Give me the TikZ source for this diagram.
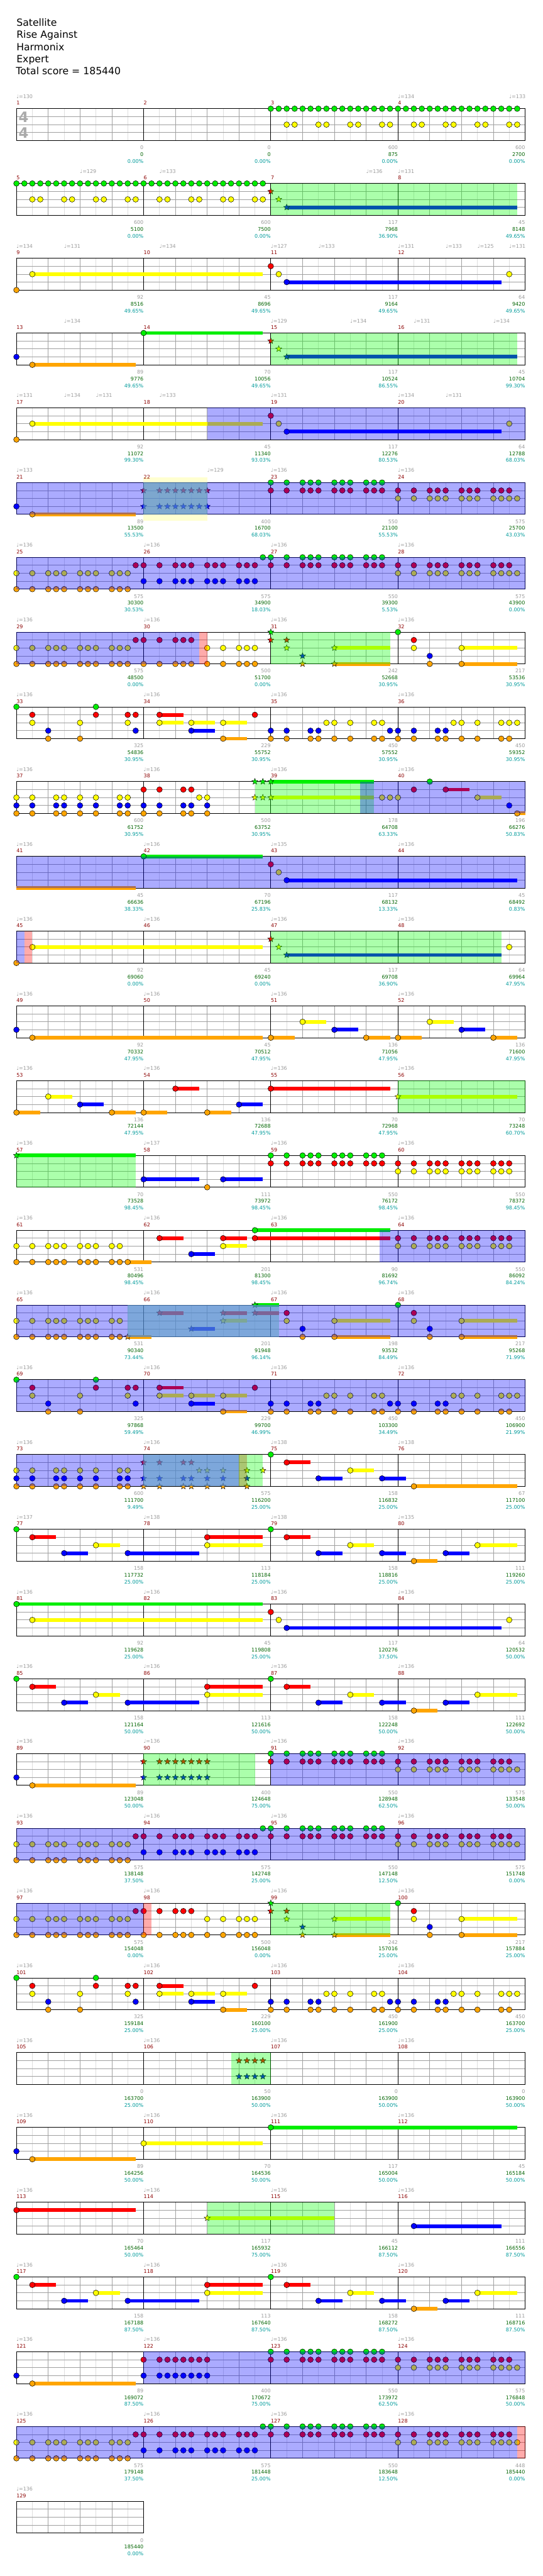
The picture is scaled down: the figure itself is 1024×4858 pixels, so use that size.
\documentclass[tikz,border=0pt]{standalone}
\usepackage{fontspec}
\setmainfont{DejaVu Sans}
\usetikzlibrary{shapes.geometric}

\definecolor{c0}{RGB}{0,238,0}
\definecolor{c1}{RGB}{255,0,0}
\definecolor{c2}{RGB}{255,255,0}
\definecolor{c3}{RGB}{0,0,255}
\definecolor{c4}{RGB}{255,165,0}
\definecolor{spcol}{RGB}{0,255,0}
\definecolor{mnumcol}{RGB}{140,0,0}
\definecolor{ptscol}{RGB}{155,155,155}
\definecolor{totcol}{RGB}{0,100,0}
\definecolor{pctcol}{RGB}{0,155,155}
\definecolor{gridcol}{RGB}{160,160,160}
\definecolor{subcol}{RGB}{222,222,222}
\definecolor{paley}{RGB}{255,255,208}
\definecolor{tealcol}{RGB}{95,165,195}

\newcommand{\smallfont}{\fontsize{9.5}{11}\selectfont}

% measure #1, sixteenth #2 -> \mx, \my (top line of the staff)
\newcommand{\setpos}[2]{%
  \pgfmathtruncatemacro{\rowidx}{(#1-1)/4}%
  \pgfmathsetmacro{\mx}{31+240*mod(#1-1,4)+15*(#2)}%
  \pgfmathsetmacro{\my}{205+141*\rowidx}}

% one bar: grid and number
\newcommand{\grid}[1]{\setpos{#1}{0}%
  \foreach \q in {2,6,10,14} \draw[subln] (\mx+15*\q,\my) -- ++(0,60);
  \foreach \q in {4,8,12} \draw[gridln] (\mx+15*\q,\my) -- ++(0,60);
  \foreach \h in {15,30,45} \draw[gridln] (\mx,\my+\h) -- ++(240,0);
  \draw[barln] (\mx,\my) rectangle ++(240,60);
  \node[mnum] at (\mx,\my-7) {#1};}
% one bar with points / total / percent
\newcommand{\meas}[4]{\grid{#1}%
  \node[pts] at (\mx+240,\my+77) {#2};
  \node[tot] at (\mx+240,\my+89.7) {#3};
  \node[pct] at (\mx+240,\my+102.7) {#4\%};}

% gems: bar, lane, list of sixteenths
\newcommand{\nts}[3]{\edef\plist{#3}%
  \foreach \p in \plist {\setpos{#1}{\p}\path[note=c#2] (\mx,\my+15*#2) circle (5.3);}}
\newcommand{\sts}[3]{\edef\plist{#3}%
  \foreach \p in \plist {\setpos{#1}{\p}\node[spnote=c#2] at (\mx,\my+15*#2) {};}}

% sustain: bar, pos, bar, pos, lane
\newcommand{\sus}[5]{\setpos{#1}{#2}\let\xa\mx\setpos{#3}{#4}%
  \fill[c#5] (\xa,\my+15*#5-3.5) rectangle (\mx,\my+15*#5+3.5);}

% shaded zone: style, bar, pos, bar, pos
\newcommand{\zone}[5]{\setpos{#2}{#3}\let\xa\mx\setpos{#4}{#5}%
  \fill[#1] (\xa,\my) rectangle (\mx,\my+60);}

\newcommand{\tmp}[3]{\setpos{#1}{#2}\node[tempo] at (\mx,\my-19.5) {♩=#3};}

\def\pat{0,2,4,5,6,8,9,10,12,13,14}
\def\pbt{0,2,5,6,8,10,13,14}

% four-bar figures that come back
\newcommand{\dense}[1]{%
  \nts{#1}{2}{\pat}\nts{#1}{4}{\pat}\nts{#1}{1}{15}
  \nts{#1+1}{1}{\pat}\nts{#1+1}{3}{\pat}\nts{#1+1}{0}{15}
  \nts{#1+2}{0}{\pat}\nts{#1+2}{1}{\pat}
  \nts{#1+3}{1}{\pat}\nts{#1+3}{2}{\pat,15}}
\newcommand{\riffend}[1]{%
  \nts{#1}{2}{\pat}\nts{#1}{4}{\pat}\nts{#1}{1}{15}
  \nts{#1+1}{1}{0,2,4,5,6}\nts{#1+1}{4}{0,2,4,5,6,8,10,12,13,14}\nts{#1+1}{2}{8,10,12,13,14}
  \sus{#1+2}{8}{#1+2}{15}{2}\sus{#1+2}{8}{#1+2}{15}{4}
  \sts{#1+2}{0}{0}\sts{#1+2}{1}{0,2}\sts{#1+2}{2}{2,8}\sts{#1+2}{3}{4}\sts{#1+2}{4}{4,8}
  \sus{#1+3}{8}{#1+3}{15}{2}\sus{#1+3}{8}{#1+3}{15}{4}
  \nts{#1+3}{0}{0}\nts{#1+3}{1}{2}\nts{#1+3}{2}{2,8}\nts{#1+3}{3}{4}\nts{#1+3}{4}{4,8}}
\newcommand{\riff}[1]{%
  \sus{#1+1}{2}{#1+1}{5}{1}\sus{#1+1}{2}{#1+1}{5}{2}\sus{#1+1}{6}{#1+1}{9}{2}
  \sus{#1+1}{6}{#1+1}{9}{3}\sus{#1+1}{10}{#1+1}{13}{2}\sus{#1+1}{10}{#1+1}{13}{4}
  \nts{#1}{0}{0,10}\nts{#1}{1}{2,10,14,15}\nts{#1}{2}{2,8,14}\nts{#1}{3}{4,15}\nts{#1}{4}{4,8}
  \nts{#1+1}{1}{2,14}\nts{#1+1}{2}{2,6,10}\nts{#1+1}{3}{6}\nts{#1+1}{4}{10}
  \nts{#1+2}{2}{7,8,10,13,14}\nts{#1+2}{3}{0,2,5,6,15}\nts{#1+2}{4}{0,2,5,6,8,10,13,14}
  \nts{#1+3}{2}{7,8,10,13,14,15}\nts{#1+3}{3}{0,2,5,6}\nts{#1+3}{4}{0,2,5,6,8,10,13,14}}
\newcommand{\bridge}[1]{%
  \sus{#1}{2}{#1}{5}{1}\sus{#1}{6}{#1}{9}{3}\sus{#1}{10}{#1}{13}{2}
  \nts{#1}{0}{0}\nts{#1}{1}{2}\nts{#1}{3}{6,14}\nts{#1}{2}{10}
  \sus{#1+2}{2}{#1+2}{5}{1}\sus{#1+2}{6}{#1+2}{9}{3}\sus{#1+2}{10}{#1+2}{13}{2}
  \nts{#1+2}{0}{0}\nts{#1+2}{1}{2}\nts{#1+2}{3}{6,14}\nts{#1+2}{2}{10}
  \sus{#1}{14}{#1+1}{7}{3}\sus{#1+1}{8}{#1+1}{15}{1}\sus{#1+1}{8}{#1+1}{15}{2}
  \nts{#1+1}{1}{8}\nts{#1+1}{2}{8}
  \sus{#1+2}{14}{#1+3}{1}{3}\sus{#1+3}{2}{#1+3}{5}{4}\sus{#1+3}{6}{#1+3}{9}{3}\sus{#1+3}{10}{#1+3}{15}{2}
  \nts{#1+3}{4}{2}\nts{#1+3}{3}{6}\nts{#1+3}{2}{10}}

\begin{document}
\begin{tikzpicture}[x=1pt, y=-1pt,
    note/.style={fill=#1, draw=black, line width=0.6pt},
    spnote/.style={star, star points=5, star point ratio=2.3, minimum size=12pt,
      inner sep=0pt, fill=#1, draw=black, line width=0.5pt},
    spz/.style={fill=spcol, fill opacity=0.33},
    odz/.style={fill=blue, fill opacity=0.33},
    pkz/.style={fill=red, fill opacity=0.33},
    tlz/.style={fill=tealcol, fill opacity=0.6},
    subln/.style={draw=subcol, line width=0.8pt},
    gridln/.style={draw=gridcol, line width=0.9pt},
    barln/.style={draw=black, line width=1pt},
    mnum/.style={anchor=base west, inner sep=0pt, text=mnumcol, font=\smallfont},
    pts/.style={anchor=base east, inner sep=0pt, text=ptscol, font=\smallfont},
    tot/.style={anchor=base east, inner sep=0pt, text=totcol, font=\smallfont},
    pct/.style={anchor=base east, inner sep=0pt, text=pctcol, font=\smallfont},
    tempo/.style={anchor=base west, inner sep=0pt, text=ptscol, font=\smallfont},
    title/.style={anchor=base west, inner sep=0pt, font=\fontsize{18.6}{23}\selectfont},
    tsig/.style={inner sep=0pt, text=black!33, font=\fontsize{27}{27}\selectfont\bfseries}]
  \fill[white] (0,0) rectangle (1024,4858);
  \useasboundingbox (0,0) rectangle (1024,4858);

  \node[title] (song)   at (31,49)  {Satellite};
  \node[title] (artist) at (31,72)  {Rise Against};
  \node[title] (author) at (31,95)  {Harmonix};
  \node[title] (diff)   at (31,118) {Expert};
  \node[title] (total)  at (30,141) {Total score = 185440};

  % bars 1-4
  \meas{1}{0}{0}{0.00}\meas{2}{0}{0}{0.00}\meas{3}{600}{875}{0.00}\meas{4}{600}{2700}{0.00}
  \node[tsig] (sigtop) at (44.5,220.5) {4};
  \node[tsig] (sigbot) at (44.5,250) {4};
  \tmp{1}{0}{130}\tmp{4}{0}{134}\tmp{4}{14}{133}
  \nts{3}{0}{0,...,15}\nts{4}{0}{0,...,15}
  \nts{3}{2}{2,3,6,7,10,11,14,15}\nts{4}{2}{2,3,6,7,10,11,14,15}

  % bars 5-8
  \meas{5}{600}{5100}{0.00}\meas{6}{600}{7500}{0.00}\meas{7}{117}{7968}{36.90}\meas{8}{45}{8148}{49.65}
  \tmp{5}{8}{129}\tmp{6}{2}{133}\tmp{7}{12}{136}\tmp{8}{0}{131}
  \nts{5}{0}{0,...,15}\nts{6}{0}{0,...,15}
  \nts{5}{2}{2,3,6,7,10,11,14,15}\nts{6}{2}{2,3,6,7,10,11,14,15}
  \sus{7}{2}{8}{15}{3}
  \sts{7}{1}{0}\sts{7}{2}{1}\sts{7}{3}{2}
  \zone{spz}{7}{0}{8}{15}

  % bars 9-12
  \meas{9}{92}{8516}{49.65}\meas{10}{45}{8696}{49.65}\meas{11}{117}{9164}{49.65}\meas{12}{64}{9420}{49.65}
  \foreach \b/\s/\t in {9/0/134,9/6/131,10/2/134,11/0/127,11/6/133,12/0/131,12/6/133,12/10/125,12/14/131}
    {\tmp{\b}{\s}{\t}}
  \sus{9}{2}{10}{15}{2}\sus{11}{2}{12}{13}{3}
  \nts{9}{4}{0}\nts{9}{2}{2}\nts{11}{1}{0}\nts{11}{2}{1}\nts{11}{3}{2}\nts{12}{2}{14}

  % bars 13-16
  \meas{13}{89}{9776}{49.65}\meas{14}{70}{10056}{49.65}\meas{15}{117}{10524}{86.55}\meas{16}{45}{10704}{99.30}
  \foreach \b/\s/\t in {13/6/134,15/0/129,15/10/134,16/2/131,16/12/134}{\tmp{\b}{\s}{\t}}
  \sus{13}{2}{13}{15}{4}\sus{14}{0}{14}{15}{0}\sus{15}{2}{16}{15}{3}
  \nts{13}{3}{0}\nts{13}{4}{2}\nts{14}{0}{0}
  \sts{15}{1}{0}\sts{15}{2}{1}\sts{15}{3}{2}
  \zone{spz}{15}{0}{16}{15}

  % bars 17-20
  \meas{17}{92}{11072}{99.30}\meas{18}{45}{11340}{93.03}\meas{19}{117}{12276}{80.53}\meas{20}{64}{12788}{68.03}
  \foreach \b/\s/\t in {17/0/131,17/6/134,17/10/131,18/2/133,19/0/131,20/0/134,20/6/131}{\tmp{\b}{\s}{\t}}
  \sus{17}{2}{18}{15}{2}\sus{19}{2}{20}{13}{3}
  \nts{17}{4}{0}\nts{17}{2}{2}\nts{19}{1}{0}\nts{19}{2}{1}\nts{19}{3}{2}\nts{20}{2}{14}
  \zone{odz}{18}{8}{20}{16}

  % bars 21-24
  \fill[paley] (271,900) rectangle (391,982);
  \meas{21}{89}{13500}{55.53}\meas{22}{400}{16700}{68.03}\meas{23}{550}{21100}{55.53}\meas{24}{575}{25700}{43.03}
  \foreach \b/\s/\t in {21/0/133,22/8/129,23/0/136,24/0/136}{\tmp{\b}{\s}{\t}}
  \sus{21}{2}{21}{15}{4}
  \nts{21}{3}{0}\nts{21}{4}{2}
  \sts{22}{1}{0,2,3,4,5,6,7,8}\sts{22}{3}{0,2,3,4,5,6,7,8}
  \nts{23}{0}{\pat}\nts{23}{1}{\pat}\nts{24}{1}{\pat}\nts{24}{2}{\pat,15}
  \zone{odz}{21}{0}{24}{16}\zone{tlz}{22}{0}{22}{8}

  % bars 25-28
  \meas{25}{575}{30300}{30.53}\meas{26}{575}{34900}{18.03}\meas{27}{550}{39300}{5.53}\meas{28}{575}{43900}{0.00}
  \foreach \b in {25,...,28}{\tmp{\b}{0}{136}}
  \dense{25}
  \zone{odz}{25}{0}{28}{16}

  % bars 29-32
  \meas{29}{575}{48500}{0.00}\meas{30}{500}{51700}{0.00}\meas{31}{242}{52668}{30.95}\meas{32}{217}{53536}{30.95}
  \foreach \b in {29,...,32}{\tmp{\b}{0}{136}}
  \riffend{29}
  \zone{odz}{29}{0}{30}{7}\zone{pkz}{30}{7}{30}{8}\zone{spz}{31}{0}{31}{15}

  % bars 33-36
  \meas{33}{325}{54836}{30.95}\meas{34}{229}{55752}{30.95}\meas{35}{450}{57552}{30.95}\meas{36}{450}{59352}{30.95}
  \foreach \b in {33,...,36}{\tmp{\b}{0}{136}}
  \riff{33}

  % bars 37-40
  \meas{37}{600}{61752}{30.95}\meas{38}{500}{63752}{30.95}\meas{39}{178}{64708}{63.33}\meas{40}{196}{66276}{50.83}
  \foreach \b in {37,...,40}{\tmp{\b}{0}{136}}
  \sus{39}{0}{39}{13}{0}\sus{39}{0}{39}{13}{2}
  \sus{40}{6}{40}{9}{1}\sus{40}{10}{40}{13}{2}\sus{40}{15}{40}{16}{4}
  \nts{37}{2}{\pbt}\nts{37}{3}{\pbt}\nts{37}{4}{\pbt}
  \nts{38}{1}{0,2,5,6}\nts{38}{3}{0,2,5,6,8}\nts{38}{4}{0,2,5,6,8}\nts{38}{2}{7,8}
  \sts{38}{0}{14,15}\sts{38}{2}{14,15}\sts{39}{0}{0}\sts{39}{2}{0}
  \nts{39}{2}{14,15}
  \nts{40}{2}{0,10}\nts{40}{1}{2,6}\nts{40}{0}{4}\nts{40}{3}{14}\nts{40}{4}{15}
  \zone{spz}{38}{14}{39}{13}\zone{odz}{39}{11.2}{40}{16}

  % bars 41-44
  \meas{41}{45}{66636}{38.33}\meas{42}{70}{67196}{25.83}\meas{43}{117}{68132}{13.33}\meas{44}{45}{68492}{0.83}
  \foreach \b/\t in {41/136,42/136,43/135,44/136}{\tmp{\b}{0}{\t}}
  \sus{41}{0}{41}{15}{4}\sus{42}{0}{42}{15}{0}\sus{43}{2}{44}{15}{3}
  \nts{42}{0}{0}\nts{43}{1}{0}\nts{43}{2}{1}\nts{43}{3}{2}
  \zone{odz}{41}{0}{44}{16}

  % bars 45-48
  \meas{45}{92}{69060}{0.00}\meas{46}{45}{69240}{0.00}\meas{47}{117}{69708}{36.90}\meas{48}{64}{69964}{47.95}
  \foreach \b in {45,...,48}{\tmp{\b}{0}{136}}
  \sus{45}{2}{46}{15}{2}\sus{47}{2}{48}{13}{3}
  \nts{45}{4}{0}\nts{45}{2}{2}\nts{48}{2}{14}
  \sts{47}{1}{0}\sts{47}{2}{1}\sts{47}{3}{2}
  \zone{odz}{45}{0}{45}{1}\zone{pkz}{45}{1}{45}{2}\zone{spz}{47}{0}{48}{13}

  % bars 49-52
  \meas{49}{92}{70332}{47.95}\meas{50}{45}{70512}{47.95}\meas{51}{136}{71056}{47.95}\meas{52}{136}{71600}{47.95}
  \foreach \b in {49,...,52}{\tmp{\b}{0}{136}}
  \sus{49}{2}{50}{15}{4}
  \foreach \b in {51,52}{\sus{\b}{0}{\b}{3}{4}\sus{\b}{4}{\b}{7}{2}\sus{\b}{8}{\b}{11}{3}\sus{\b}{12}{\b}{15}{4}
    \nts{\b}{4}{0,12}\nts{\b}{2}{4}\nts{\b}{3}{8}}
  \nts{49}{3}{0}\nts{49}{4}{2}

  % bars 53-56
  \meas{53}{136}{72144}{47.95}\meas{54}{136}{72688}{47.95}\meas{55}{70}{72968}{47.95}\meas{56}{70}{73248}{60.70}
  \foreach \b in {53,...,56}{\tmp{\b}{0}{136}}
  \sus{53}{0}{53}{3}{4}\sus{53}{4}{53}{7}{2}\sus{53}{8}{53}{11}{3}\sus{53}{12}{53}{15}{4}
  \sus{54}{0}{54}{3}{4}\sus{54}{4}{54}{7}{1}\sus{54}{8}{54}{11}{4}\sus{54}{12}{54}{15}{3}
  \sus{55}{0}{55}{15}{1}\sus{56}{0}{56}{15}{2}
  \nts{53}{4}{0,12}\nts{53}{2}{4}\nts{53}{3}{8}
  \nts{54}{4}{0,8}\nts{54}{1}{4}\nts{54}{3}{12}\nts{55}{1}{0}
  \sts{56}{2}{0}
  \zone{spz}{56}{0}{56}{16}

  % bars 57-60
  \meas{57}{70}{73528}{98.45}\meas{58}{111}{73972}{98.45}\meas{59}{550}{76172}{98.45}\meas{60}{550}{78372}{98.45}
  \foreach \b/\t in {57/136,58/137,59/136,60/136}{\tmp{\b}{0}{\t}}
  \sus{57}{0}{57}{15}{0}\sus{58}{0}{58}{7}{3}\sus{58}{10}{58}{15}{3}
  \sts{57}{0}{0}
  \nts{58}{3}{0,10}\nts{58}{4}{8}
  \nts{59}{0}{\pat}\nts{59}{1}{\pat}\nts{60}{1}{\pat}\nts{60}{2}{\pat}
  \zone{spz}{57}{0}{57}{15}

  % bars 61-64
  \meas{61}{531}{80496}{98.45}\meas{62}{201}{81300}{98.45}\meas{63}{90}{81692}{96.74}\meas{64}{550}{86092}{84.24}
  \foreach \b in {61,...,64}{\tmp{\b}{0}{136}}
  \sus{61}{14}{62}{1}{4}
  \sus{62}{2}{62}{5}{1}\sus{62}{6}{62}{9}{3}\sus{62}{10}{62}{13}{1}\sus{62}{10}{62}{13}{2}
  \sus{62}{14}{63}{15}{0}\sus{62}{14}{63}{15}{1}
  \nts{61}{2}{0,2,4,5,6,8,9,10,12,13}\nts{61}{4}{\pat}
  \nts{62}{1}{2,10,14}\nts{62}{3}{6}\nts{62}{2}{10}\nts{62}{0}{14}
  \nts{64}{1}{\pat}\nts{64}{2}{\pat}
  \zone{odz}{63}{13.7}{64}{16}

  % bars 65-68
  \meas{65}{531}{90340}{73.44}\meas{66}{201}{91948}{96.14}\meas{67}{198}{93532}{84.49}\meas{68}{217}{95268}{71.99}
  \foreach \b in {65,...,68}{\tmp{\b}{0}{136}}
  \sus{65}{14}{66}{1}{4}
  \sus{66}{2}{66}{5}{1}\sus{66}{6}{66}{9}{3}\sus{66}{10}{66}{13}{1}\sus{66}{10}{66}{13}{2}
  \sus{66}{14}{67}{1}{0}\sus{66}{14}{67}{1}{1}
  \foreach \b in {67,68}{\sus{\b}{8}{\b}{15}{2}\sus{\b}{8}{\b}{15}{4}
    \nts{\b}{1}{2}\nts{\b}{2}{2,8}\nts{\b}{3}{4}\nts{\b}{4}{4,8}}
  \nts{68}{0}{0}
  \nts{65}{2}{0,2,4,5,6,8,9,10,12,13}\nts{65}{4}{0,2,4,5,6,8,9,10,12,13}\sts{65}{4}{14}
  \sts{66}{1}{2,10,14}\sts{66}{3}{6}\sts{66}{2}{10}\sts{66}{0}{14}
  \zone{odz}{65}{0}{68}{16}\zone{tlz}{65}{14}{67}{1}

  % bars 69-72
  \meas{69}{325}{97868}{59.49}\meas{70}{229}{99700}{46.99}\meas{71}{450}{103300}{34.49}\meas{72}{450}{106900}{21.99}
  \foreach \b in {69,...,72}{\tmp{\b}{0}{136}}
  \riff{69}
  \zone{odz}{69}{0}{72}{16}

  % bars 73-76
  \meas{73}{600}{111700}{9.49}\meas{74}{575}{116200}{25.00}\meas{75}{158}{116832}{25.00}\meas{76}{67}{117100}{25.00}
  \foreach \b/\t in {73/136,74/136,75/138,76/138}{\tmp{\b}{0}{\t}}
  \nts{73}{2}{\pbt}\nts{73}{3}{\pbt}\nts{73}{4}{\pbt}
  \sts{74}{1}{0,2,5,6}\sts{74}{2}{7,8,10,13,15}\sts{74}{3}{0,2,5,6,8,10,13}\sts{74}{4}{0,2,5,6,8,10,13}
  \sus{75}{2}{75}{5}{1}\sus{75}{6}{75}{9}{3}\sus{75}{10}{75}{13}{2}\sus{75}{14}{76}{1}{3}\sus{76}{2}{76}{15}{4}
  \nts{75}{0}{0}\nts{75}{1}{2}\nts{75}{3}{6,14}\nts{75}{2}{10}\nts{76}{4}{2}
  \zone{odz}{73}{0}{74}{12}\zone{tlz}{74}{0}{74}{12}\zone{pkz}{74}{12}{74}{13}\zone{spz}{74}{12}{74}{15}

  % bars 77-80
  \meas{77}{158}{117732}{25.00}\meas{78}{113}{118184}{25.00}\meas{79}{158}{118816}{25.00}\meas{80}{111}{119260}{25.00}
  \foreach \b/\t in {77/137,78/138,79/138,80/135}{\tmp{\b}{0}{\t}}
  \bridge{77}

  % bars 81-84
  \meas{81}{92}{119628}{25.00}\meas{82}{45}{119808}{25.00}\meas{83}{117}{120276}{37.50}\meas{84}{64}{120532}{50.00}
  \sus{81}{0}{82}{15}{0}\sus{81}{2}{82}{15}{2}\sus{83}{2}{84}{13}{3}
  \nts{81}{0}{0}\nts{81}{2}{2}\nts{83}{1}{0}\nts{83}{2}{1}\nts{83}{3}{2}\nts{84}{2}{14}

  % bars 85-88
  \meas{85}{158}{121164}{50.00}\meas{86}{113}{121616}{50.00}\meas{87}{158}{122248}{50.00}\meas{88}{111}{122692}{50.00}
  \bridge{85}

  % bars 89-92
  \meas{89}{89}{123048}{50.00}\meas{90}{400}{124648}{75.00}\meas{91}{550}{128948}{62.50}\meas{92}{575}{133548}{50.00}
  \sus{89}{2}{89}{15}{4}\nts{89}{3}{0}\nts{89}{4}{2}
  \sts{90}{1}{0,2,3,4,5,6,7,8}\sts{90}{3}{0,2,3,4,5,6,7,8}
  \nts{91}{0}{\pat}\nts{91}{1}{\pat}\nts{92}{1}{\pat}\nts{92}{2}{\pat,15}
  \zone{spz}{90}{0}{90}{14}\zone{odz}{91}{0}{92}{16}

  % bars 93-96
  \meas{93}{575}{138148}{37.50}\meas{94}{575}{142748}{25.00}\meas{95}{550}{147148}{12.50}\meas{96}{575}{151748}{0.00}
  \dense{93}
  \zone{odz}{93}{0}{96}{16}

  % bars 97-100
  \meas{97}{575}{154048}{0.00}\meas{98}{500}{156048}{0.00}\meas{99}{242}{157016}{25.00}\meas{100}{217}{157884}{25.00}
  \riffend{97}
  \zone{odz}{97}{0}{97}{16}\zone{pkz}{98}{0}{98}{1}\zone{spz}{99}{0}{99}{15}

  % bars 101-104
  \meas{101}{325}{159184}{25.00}\meas{102}{229}{160100}{25.00}\meas{103}{450}{161900}{25.00}\meas{104}{450}{163700}{25.00}
  \riff{101}

  % bars 105-108
  \meas{105}{0}{163700}{25.00}\meas{106}{50}{163900}{50.00}\meas{107}{0}{163900}{50.00}\meas{108}{0}{163900}{50.00}
  \sts{106}{1}{12,13,14,15}\sts{106}{3}{12,13,14,15}
  \zone{spz}{106}{11}{106}{16}

  % bars 109-112
  \meas{109}{89}{164256}{50.00}\meas{110}{70}{164536}{50.00}\meas{111}{117}{165004}{50.00}\meas{112}{45}{165184}{50.00}
  \sus{109}{2}{109}{15}{4}\sus{110}{0}{110}{15}{2}\sus{111}{0}{112}{15}{0}
  \nts{109}{3}{0}\nts{109}{4}{2}\nts{110}{2}{0}\nts{111}{0}{0}

  % bars 113-116
  \meas{113}{70}{165464}{50.00}\meas{114}{117}{165932}{75.00}\meas{115}{45}{166112}{87.50}\meas{116}{111}{166556}{87.50}
  \sus{113}{0}{113}{15}{1}\sus{114}{8}{115}{8}{2}\sus{116}{2}{116}{13}{3}
  \nts{113}{1}{0}\sts{114}{2}{8}\nts{116}{3}{2}
  \zone{spz}{114}{8}{115}{8}

  % bars 117-120
  \meas{117}{158}{167188}{87.50}\meas{118}{113}{167640}{87.50}\meas{119}{158}{168272}{87.50}\meas{120}{111}{168716}{87.50}
  \bridge{117}

  % bars 121-124
  \meas{121}{89}{169072}{87.50}\meas{122}{400}{170672}{75.00}\meas{123}{550}{173972}{62.50}\meas{124}{575}{176848}{50.00}
  \sus{121}{2}{121}{15}{4}\nts{121}{3}{0}\nts{121}{4}{2}
  \nts{122}{1}{0,2,3,4,5,6,7,8}\nts{122}{3}{0,2,3,4,5,6,7,8}
  \nts{123}{0}{\pat}\nts{123}{1}{\pat}\nts{124}{1}{\pat}\nts{124}{2}{\pat,15}
  \zone{odz}{122}{0}{124}{16}

  % bars 125-128
  \meas{125}{575}{179148}{37.50}\meas{126}{575}{181448}{25.00}\meas{127}{550}{183648}{12.50}\meas{128}{448}{185440}{0.00}
  \dense{125}
  \zone{odz}{125}{0}{128}{15}\zone{pkz}{128}{15}{128}{16}

  % bar 129
  \meas{129}{0}{185440}{0.00}
  \foreach \b in {81,...,129}{\tmp{\b}{0}{136}}
\end{tikzpicture}
\end{document}
